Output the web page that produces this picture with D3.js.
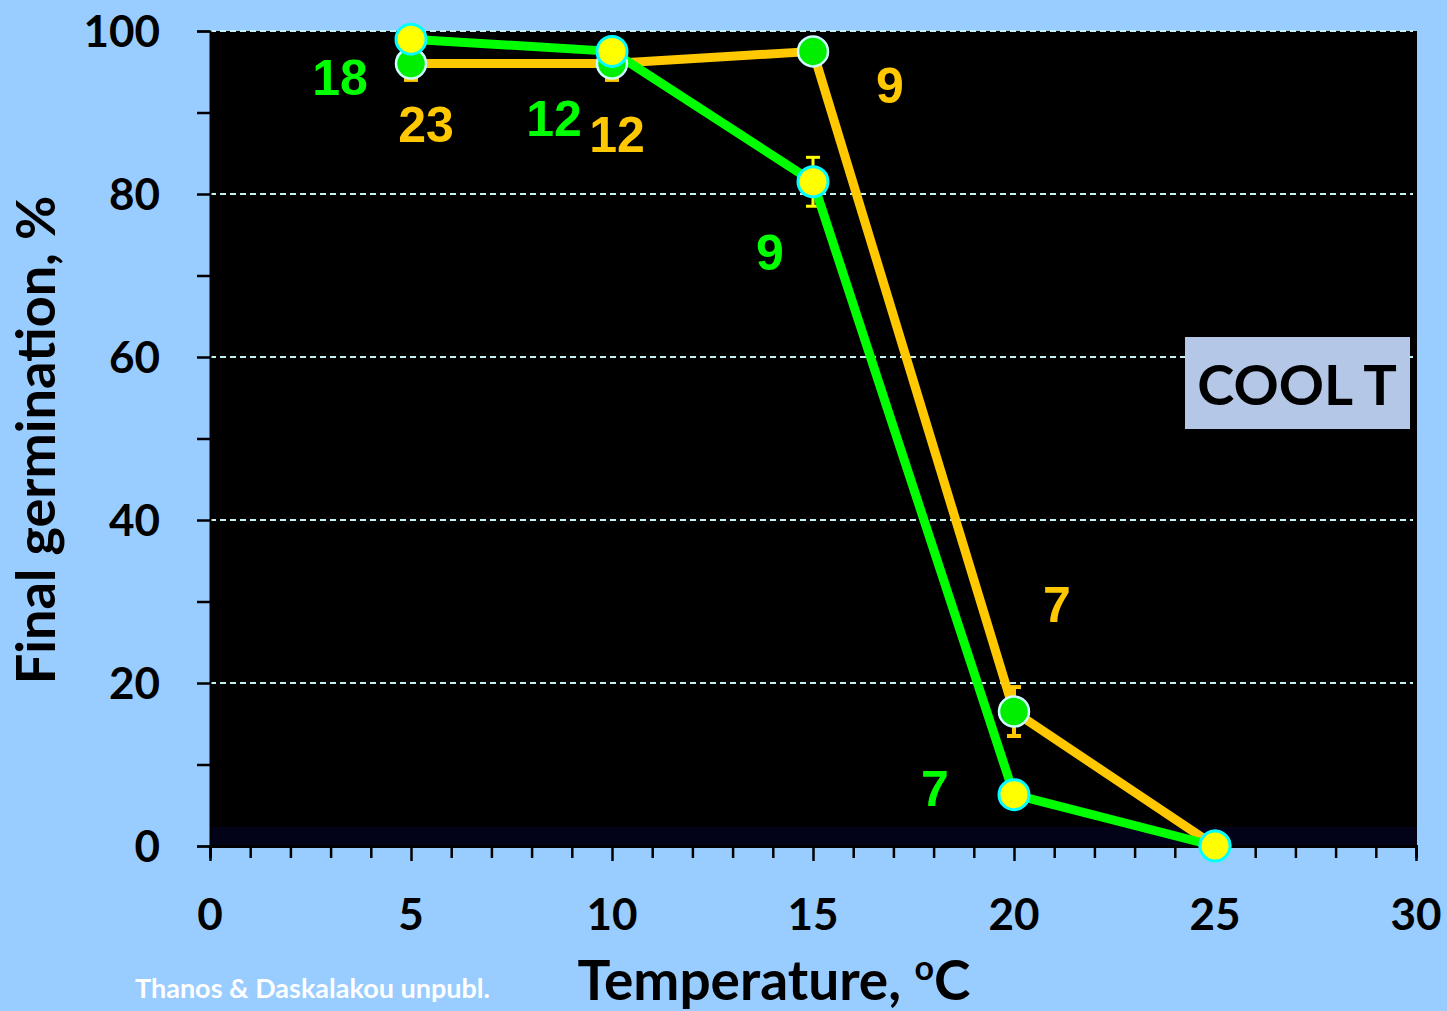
<!DOCTYPE html>
<html><head><meta charset="utf-8">
<script src="https://cdn.jsdelivr.net/npm/d3@7"></script>
<style>html,body{margin:0;padding:0;background:#99ccff;} svg{display:block;}</style>
</head><body>
<svg id="chart" width="1447" height="1011"></svg>
<script>
// ---- data ----
const temps = [5, 10, 15, 20, 25];
// green line, yellow markers
const seriesA = [99, 97.5, 81.5, 6.3, 0];
const errA = [0.8, 0.8, 3, 0.8, 0];
const countsA = ["18", "12", "9", "7"];
// orange line, green markers
const seriesB = [96, 96, 97.5, 16.5, 0];
const errB = [2, 2, 0.8, 3, 0];
const countsB = ["23", "12", "9", "7"];
const xTicks = [0, 5, 10, 15, 20, 25, 30];
const yTicks = [0, 20, 40, 60, 80, 100];

// ---- layout ----
const svg = d3.select("#chart");
const W = 1447, H = 1011;
const x = d3.scaleLinear().domain([0, 30]).range([210, 1416]);
const y = d3.scaleLinear().domain([0, 100]).range([846, 31]);
const FONT = "Lato, 'Open Sans', sans-serif";

svg.append("rect").attr("width", W).attr("height", H).attr("fill", "#99ccff");

const defs = svg.append("defs");
const grad = defs.append("linearGradient").attr("id", "bg").attr("x1", 0).attr("x2", 0).attr("y1", 0).attr("y2", 1);
grad.append("stop").attr("offset", "0%").attr("stop-color", "#000000");
grad.append("stop").attr("offset", "97.6%").attr("stop-color", "#000000");
grad.append("stop").attr("offset", "97.7%").attr("stop-color", "#020218");
grad.append("stop").attr("offset", "100%").attr("stop-color", "#020218");
svg.append("rect").attr("x", x(0)).attr("y", y(100)).attr("width", x(30) - x(0) + 1).attr("height", y(0) - y(100)).attr("fill", "url(#bg)");

// gridlines
svg.append("g").selectAll("line").data(yTicks.filter(d => d > 0)).join("line")
  .attr("x1", x(0)).attr("x2", x(30) - 3).attr("y1", d => y(d)).attr("y2", d => y(d))
  .attr("stroke", "#c4f2f2").attr("stroke-width", 2.2).attr("stroke-dasharray", "6,4");

// axes
const yAxis = d3.axisLeft(y).tickValues(d3.range(0, 101, 10)).tickSize(13).tickFormat("");
const gy = svg.append("g").attr("transform", `translate(${x(0)},0)`).call(yAxis);
gy.select(".domain").attr("stroke", "#000").attr("stroke-width", 2);
gy.selectAll(".tick line").attr("stroke", "#000").attr("stroke-width", 2.5);

const xAxis = d3.axisBottom(x).tickValues(d3.range(0, 31, 1)).tickSize(12).tickFormat("");
const gx = svg.append("g").attr("transform", `translate(0,${y(0)})`).call(xAxis);
gx.select(".domain").attr("stroke", "#000").attr("stroke-width", 3);
gx.selectAll(".tick line").attr("stroke", "#000").attr("stroke-width", 2.5)
  .attr("y2", d => d % 5 === 0 ? 15 : 12);

// tick labels
svg.append("g").selectAll("text").data(yTicks).join("text")
  .attr("x", 160).attr("y", d => y(d)).attr("dy", "0.36em")
  .attr("text-anchor", "end").attr("font-family", FONT).attr("font-weight", 700)
  .attr("font-size", 44).attr("fill", "#000").text(d => d);
svg.append("g").selectAll("text").data(xTicks).join("text")
  .attr("x", d => x(d)).attr("y", 930)
  .attr("text-anchor", "middle").attr("font-family", FONT).attr("font-weight", 700)
  .attr("font-size", 44).attr("fill", "#000").text(d => d);

// axis titles
svg.append("text").attr("transform", "translate(55,440) rotate(-90)")
  .attr("text-anchor", "middle").attr("font-family", FONT).attr("font-weight", 700)
  .attr("font-size", 54).attr("fill", "#000").text("Final germination, %");
const xt = svg.append("text").attr("x", 774).attr("y", 1000)
  .attr("text-anchor", "middle").attr("font-family", FONT).attr("font-weight", 700)
  .attr("font-size", 55).attr("fill", "#000");
xt.append("tspan").text("Temperature, ");
xt.append("tspan").attr("font-size", 34).attr("dy", -20).text("o");
xt.append("tspan").attr("dy", 20).text("C");

svg.append("text").attr("x", 135).attr("y", 998)
  .attr("font-family", FONT).attr("font-weight", 700).attr("font-size", 27)
  .attr("fill", "#ffffff").text("Thanos & Daskalakou unpubl.");

// COOL T box
svg.append("rect").attr("x", 1185).attr("y", 337).attr("width", 225).attr("height", 92).attr("fill", "#b4c7e7");
svg.append("text").attr("x", 1297).attr("y", 405).attr("text-anchor", "middle")
  .attr("font-family", FONT).attr("font-weight", 700).attr("font-size", 56).attr("fill", "#000").text("COOL T");

// series
const A = temps.map((t, i) => ({t, v: seriesA[i], e: errA[i]}));
const B = temps.map((t, i) => ({t, v: seriesB[i], e: errB[i]}));
const line = d3.line().x(d => x(d.t)).y(d => y(d.v));

function errorBars(data, color, w) {
  const g = svg.append("g").attr("stroke", color).attr("stroke-width", w);
  data.filter(d => d.e > 0).forEach(d => {
    g.append("line").attr("x1", x(d.t)).attr("x2", x(d.t)).attr("y1", y(d.v + d.e)).attr("y2", y(d.v - d.e));
    g.append("line").attr("x1", x(d.t) - 7).attr("x2", x(d.t) + 7).attr("y1", y(d.v + d.e)).attr("y2", y(d.v + d.e));
    g.append("line").attr("x1", x(d.t) - 7).attr("x2", x(d.t) + 7).attr("y1", y(d.v - d.e)).attr("y2", y(d.v - d.e));
  });
}
errorBars(B, "#ffc800", 4);
errorBars(A, "#ffff00", 3);

svg.append("path").datum(B).attr("d", line).attr("fill", "none").attr("stroke", "#ffc800").attr("stroke-width", 9).attr("stroke-linejoin", "round");
svg.append("path").datum(A).attr("d", line).attr("fill", "none").attr("stroke", "#00ff00").attr("stroke-width", 9).attr("stroke-linejoin", "round");

svg.append("g").selectAll("circle").data(B).join("circle")
  .attr("cx", d => x(d.t)).attr("cy", d => y(d.v)).attr("r", 15)
  .attr("fill", "#00ee00").attr("stroke", "#ccffff").attr("stroke-width", 2.5);
svg.append("g").selectAll("circle").data(A).join("circle")
  .attr("cx", d => x(d.t)).attr("cy", d => y(d.v)).attr("r", 15)
  .attr("fill", "#ffff00").attr("stroke", "#00ffff").attr("stroke-width", 3);

// count labels (pixel offsets from each point)
const offA = [[-71, 56], [-58, 85], [-43, 88], [-79, 11]];
const offB = [[15, 78], [5, 88], [77, 52], [43, -90]];
svg.append("g").selectAll("text").data(countsA).join("text")
  .attr("x", (d, i) => x(temps[i]) + offA[i][0]).attr("y", (d, i) => y(seriesA[i]) + offA[i][1])
  .attr("text-anchor", "middle").attr("font-family", "'Liberation Sans', Arial, sans-serif").attr("font-weight", 700)
  .attr("font-size", 50).attr("fill", "#00ff00").text(d => d);
svg.append("g").selectAll("text").data(countsB).join("text")
  .attr("x", (d, i) => x(temps[i]) + offB[i][0]).attr("y", (d, i) => y(seriesB[i]) + offB[i][1])
  .attr("text-anchor", "middle").attr("font-family", "'Liberation Sans', Arial, sans-serif").attr("font-weight", 700)
  .attr("font-size", 50).attr("fill", "#ffc800").text(d => d);
</script>
</body></html>
